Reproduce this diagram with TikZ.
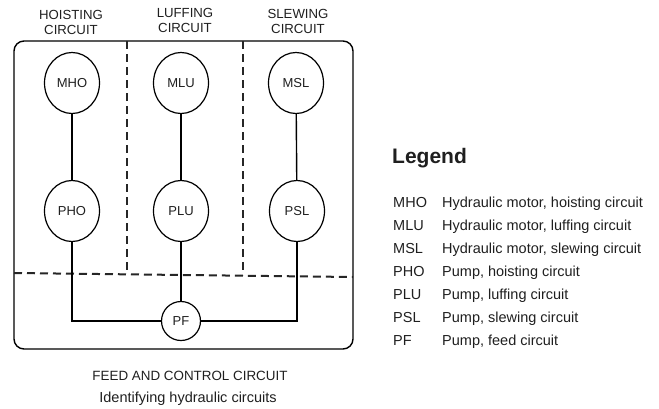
\documentclass[tikz,border=0pt]{standalone}
\usepackage{fontspec}
\setmainfont{Liberation Sans}
\usetikzlibrary{positioning,shapes.geometric}
\definecolor{tinta}{rgb}{0.12,0.12,0.12}
\tikzset{
  unidad/.style={
    ellipse,
    draw=black,
    line width=1.2pt,
    minimum width=55pt,
    minimum height=61pt,
    inner sep=0pt,
    text=tinta,
    font=\fontsize{13}{15}\selectfont
  },
  bomba/.style={
    circle,
    draw=black,
    line width=1.2pt,
    minimum size=39pt,
    inner sep=0pt,
    text=tinta,
    font=\fontsize{13}{15}\selectfont
  },
  titulo/.style={
    align=center,
    inner sep=0pt,
    anchor=north,
    text=tinta,
    font=\fontsize{13.2}{15}\selectfont
  },
  pie/.style={
    anchor=base,
    inner sep=0pt,
    text=tinta
  },
  leyenda/.style={
    anchor=base west,
    inner sep=0pt,
    text=tinta,
    font=\fontsize{14.5}{17}\selectfont
  },
  linea/.style={
    line width=1.4pt,
    black
  },
  division/.style={
    line width=2pt,
    dash pattern=on 8pt off 5pt,
    black!85
  }
}

\begin{document}
\begin{tikzpicture}[x=1pt,y=-1pt]
\useasboundingbox (0,0) rectangle (659,408);
% frame and dashed divisions
\draw[linea, rounded corners=10pt] (14,41) rectangle (353,349);
\draw[division] (14,273) -- (353,277);
\draw[division] (127,41) -- (127,274);
\draw[division] (243,41) -- (243,275);
% circuit titles
\node[titulo] (hoist) at (71,10) {HOISTING\\CIRCUIT};
\node[titulo] (luff) at (185,8) {LUFFING\\CIRCUIT};
\node[titulo] (slew) at (298,9) {SLEWING\\CIRCUIT};
% motors and pumps
\node[unidad] (mho) at (72,83) {MHO};
\node[unidad] (mlu) at (181,83) {MLU};
\node[unidad] (msl) at (296,83) {MSL};
\node[unidad] (pho) at (72,211) {PHO};
\node[unidad] (plu) at (181,211) {PLU};
\node[unidad] (psl) at (297,211) {PSL};
\node[bomba] (pf) at (181,321) {PF};
\draw[linea] (mho) -- (pho);
\draw[linea] (mlu) -- (plu);
\draw[linea] (msl) -- (psl);
\draw[linea] (plu) -- (pf);
\draw[linea] (pho.south) |- (pf.west);
\draw[linea] (psl.south) |- (pf.east);
% captions
\node[pie, font=\fontsize{13.4}{15}\selectfont] (feed) at (190,380) {FEED AND CONTROL CIRCUIT};
\node[pie, font=\fontsize{14.5}{17}\selectfont] (ident) at (188,402) {Identifying hydraulic circuits};
% legend
\node[leyenda, font=\fontsize{21}{24}\selectfont\bfseries] (legend) at (392,163) {Legend};
\node[leyenda] (kmho) at (393,207) {MHO};
\node[leyenda] (kmlu) at (393,230) {MLU};
\node[leyenda] (kmsl) at (393,253) {MSL};
\node[leyenda] (kpho) at (393,276) {PHO};
\node[leyenda] (kplu) at (393,299) {PLU};
\node[leyenda] (kpsl) at (393,322) {PSL};
\node[leyenda] (kpf) at (393,345) {PF};
\node[leyenda] (dmho) at (442,207) {Hydraulic motor, hoisting circuit};
\node[leyenda] (dmlu) at (442,230) {Hydraulic motor, luffing circuit};
\node[leyenda] (dmsl) at (442,253) {Hydraulic motor, slewing circuit};
\node[leyenda] (dpho) at (442,276) {Pump, hoisting circuit};
\node[leyenda] (dplu) at (442,299) {Pump, luffing circuit};
\node[leyenda] (dpsl) at (442,322) {Pump, slewing circuit};
\node[leyenda] (dpf) at (442,345) {Pump, feed circuit};
\end{tikzpicture}
\end{document}
